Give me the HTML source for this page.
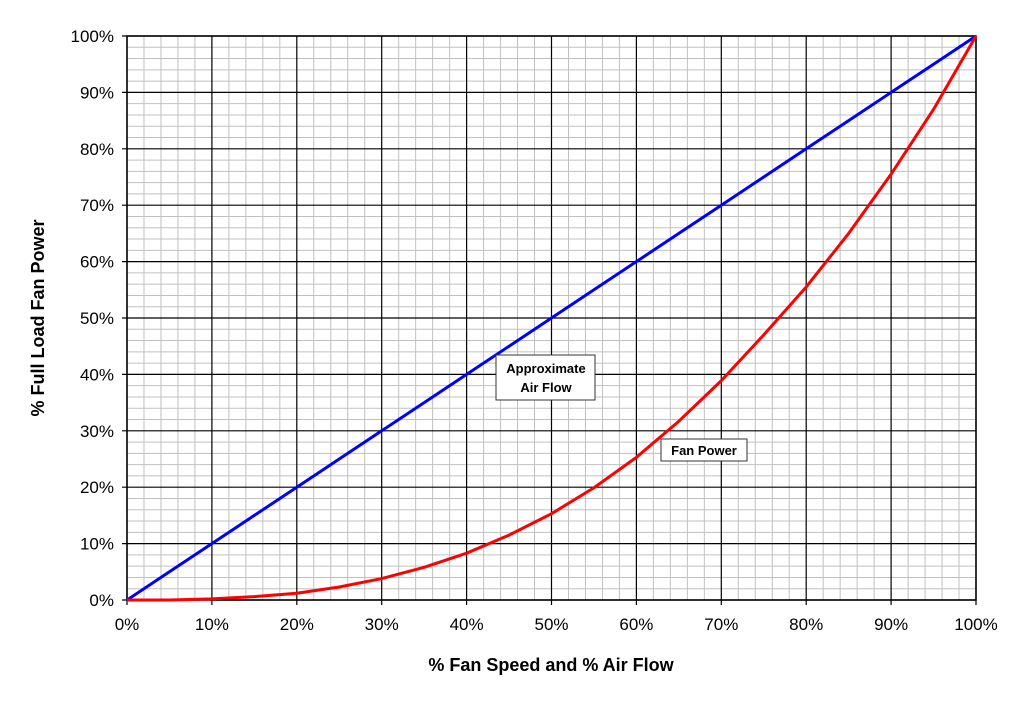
<!DOCTYPE html>
<html><head><meta charset="utf-8"><style>
body{margin:0;background:#fff;font-family:"Liberation Sans",Arial,sans-serif}
</style></head><body>
<svg id="c" width="1024" height="703" viewBox="0 0 1024 703" xmlns="http://www.w3.org/2000/svg"></svg>
<script>
const xCategories=[0,5,10,15,20,25,30,35,40,45,50,55,60,65,70,75,80,85,90,95,100];
const airFlowValues=[0,5,10,15,20,25,30,35,40,45,50,55,60,65,70,75,80,85,90,95,100];
const fanPowerValues=[0,0,0.2,0.6,1.2,2.3,3.8,5.8,8.3,11.5,15.3,19.9,25.3,31.7,38.9,47,55.5,65,75.5,87,100];
const tickLabels=["0%","10%","20%","30%","40%","50%","60%","70%","80%","90%","100%"];
const tickValues=[0,10,20,30,40,50,60,70,80,90,100];
const L=127,R=976,T=36,B=600;
const sx=v=>L+(R-L)*v/100, sy=v=>B-(B-T)*v/100;
const svg=document.getElementById('c');const NS='http://www.w3.org/2000/svg';
function mk(t,a,p){const e=document.createElementNS(NS,t);for(const k in a)e.setAttribute(k,a[k]);(p||svg).appendChild(e);return e;}
const grid=mk('g',{});


for(let v=2;v<100;v+=2){if(v%10===0)continue;
mk('line',{x1:sx(v),x2:sx(v),y1:T,y2:B,stroke:'#c0c0c0','stroke-width':1},grid);
mk('line',{x1:L,x2:R,y1:sy(v),y2:sy(v),stroke:'#c0c0c0','stroke-width':1},grid);}
tickValues.forEach((v,i)=>{
mk('line',{x1:sx(v),x2:sx(v),y1:T,y2:B+5,stroke:'#000','stroke-width':1.2},grid);
mk('line',{x1:L-5,x2:R,y1:sy(v),y2:sy(v),stroke:'#000','stroke-width':1.2},grid);
const xl=mk('text',{x:sx(v),y:B+30,'text-anchor':'middle','font-size':17});xl.textContent=tickLabels[i];


const yl=mk('text',{x:L-13,y:sy(v)+6,'text-anchor':'end','font-size':17});yl.textContent=tickLabels[i];


});
mk('rect',{x:L,y:T,width:R-L,height:B-T,fill:'none',stroke:'#000','stroke-width':1.5});
const air=mk('polyline',{points:xCategories.map((x,i)=>sx(x)+','+sy(airFlowValues[i])).join(' '),fill:'none',stroke:'#0000ff','stroke-width':3});


const fan=mk('polyline',{points:xCategories.map((x,i)=>sx(x)+','+sy(fanPowerValues[i])).join(' '),fill:'none',stroke:'#ff0000','stroke-width':3,'stroke-linejoin':'round'});


const b1=mk('g',{});


mk('rect',{x:496,y:355,width:99,height:45,fill:'#fff',stroke:'#333','stroke-width':1},b1);
let t=mk('text',{x:546,y:373,'text-anchor':'middle','font-size':13,'font-weight':'bold'},b1);t.textContent='Approximate';
t=mk('text',{x:546,y:392,'text-anchor':'middle','font-size':13,'font-weight':'bold'},b1);t.textContent='Air Flow';
const b2=mk('g',{});


mk('rect',{x:661,y:439,width:86,height:22,fill:'#fff',stroke:'#333','stroke-width':1},b2);
t=mk('text',{x:704,y:455,'text-anchor':'middle','font-size':13,'font-weight':'bold'},b2);t.textContent='Fan Power';
const xt=mk('text',{x:551,y:671,'text-anchor':'middle','font-size':18,'font-weight':'bold'});xt.textContent='% Fan Speed and % Air Flow';


const yt=mk('text',{x:0,y:0,'text-anchor':'middle','font-size':18,'font-weight':'bold',transform:'translate(44,318) rotate(-90)'});yt.textContent='% Full Load Fan Power';


</script>
</body></html>
